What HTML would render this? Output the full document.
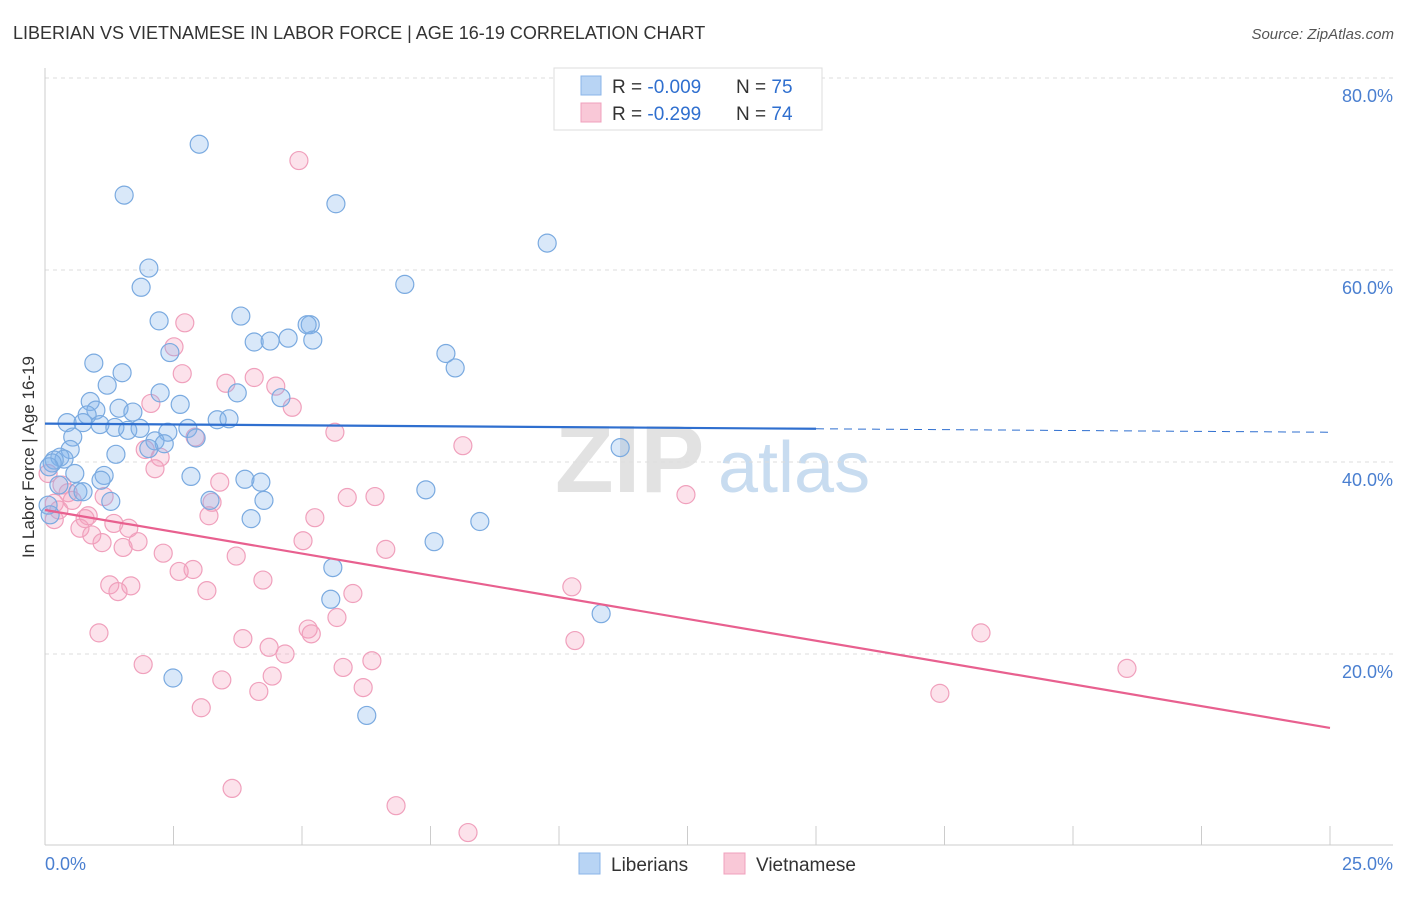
<!DOCTYPE html>
<html><head><meta charset="utf-8"><style>
body{margin:0;background:#fff;font-family:"Liberation Sans",sans-serif;}
svg text{font-family:"Liberation Sans",sans-serif;}
</style></head><body>
<svg id="chart" width="1406" height="892" xmlns="http://www.w3.org/2000/svg">
<text x="13" y="39" font-size="18" fill="#333">LIBERIAN VS VIETNAMESE IN LABOR FORCE | AGE 16-19 CORRELATION CHART</text>
<text x="1394" y="39" font-size="15" fill="#555" font-style="italic" text-anchor="end">Source: ZipAtlas.com</text>
<g>
<text x="555" y="492" font-size="96" font-family="Liberation Serif" fill="#e2e2e2" font-weight="bold">ZIP</text>
<text x="718" y="492" font-size="72" fill="#c8dcf0">atlas</text>
</g>
<g id="grid"></g>
<line x1="45" y1="68" x2="45" y2="845" stroke="#ccc"/>
<line x1="45" y1="845" x2="1393" y2="845" stroke="#ccc"/>
<text transform="translate(34,457) rotate(-90)" font-size="17" fill="#333" text-anchor="middle">In Labor Force | Age 16-19</text>
<text x="45" y="870" font-size="18" fill="#4a7fd0">0.0%</text>
<text x="1393" y="870" font-size="18" fill="#4a7fd0" text-anchor="end">25.0%</text>
<g id="points"></g>
<g id="trends"></g>
<g>
<rect x="554" y="68" width="268" height="62" fill="#fff" stroke="#ddd"/>
<rect x="581" y="76" width="20" height="19" fill="#b8d4f4" stroke="#8ab4e8"/>
<rect x="581" y="103" width="20" height="19" fill="#f9c8d7" stroke="#f0a0bc"/>
<text x="612" y="93" font-size="19" fill="#333">R = <tspan fill="#2f6fcf">-0.009</tspan><tspan x="736">N = </tspan><tspan fill="#2f6fcf">75</tspan></text>
<text x="612" y="120" font-size="19" fill="#333">R =  <tspan fill="#2f6fcf">-0.299</tspan><tspan x="736">N = </tspan><tspan fill="#2f6fcf">74</tspan></text>
</g>
<g>
<rect x="579" y="853" width="21" height="21" fill="#b8d4f4" stroke="#8ab4e8"/>
<text x="611" y="871" font-size="19" fill="#333">Liberians</text>
<rect x="724" y="853" width="21" height="21" fill="#f9c8d7" stroke="#f0a0bc"/>
<text x="756" y="871" font-size="19" fill="#333">Vietnamese</text>
</g>
</svg>
<script>
const yTicks=[20,40,60,80];
const xTicks=[0,2.5,5,7.5,10,12.5,15,17.5,20,22.5,25];
const blueX=[3.00,1.54,5.66,9.77,2.02,1.87,7.00,2.22,3.81,5.16,5.10,4.07,4.38,4.73,5.21,2.43,7.80,7.98,0.95,1.50,1.21,2.24,3.74,4.59,0.88,2.63,0.99,1.44,1.71,0.82,0.43,0.74,3.35,3.58,1.07,1.36,1.61,1.85,2.78,2.39,0.54,2.94,2.14,2.32,2.02,0.49,1.38,0.29,0.37,0.18,0.14,0.08,11.19,0.58,1.15,2.84,3.89,4.20,1.09,0.27,0.64,0.74,7.41,3.21,1.28,4.26,0.06,4.01,8.46,0.10,7.57,5.60,5.56,10.82,2.49,6.26];
const blueY=[73.1,67.8,66.9,62.8,60.2,58.2,58.5,54.7,55.2,54.3,54.3,52.5,52.6,52.9,52.7,51.4,51.3,49.8,50.3,49.3,48.0,47.2,47.2,46.7,46.3,46.0,45.4,45.6,45.2,44.9,44.1,44.1,44.4,44.5,43.9,43.6,43.3,43.5,43.5,43.1,42.6,42.5,42.2,41.9,41.4,41.3,40.8,40.5,40.3,40.2,39.9,39.5,41.5,38.8,38.6,38.5,38.2,37.9,38.1,37.6,36.9,36.9,37.1,36.0,35.9,36.0,35.5,34.1,33.8,34.5,31.7,29.0,25.7,24.2,17.5,13.6];
const pinkX=[4.94,2.72,2.51,2.67,4.07,3.52,4.49,4.81,2.06,2.92,5.64,8.13,1.95,2.24,2.14,3.40,0.06,0.33,0.45,1.15,0.53,5.88,6.42,0.18,12.47,3.25,0.27,0.84,5.25,0.18,0.78,3.19,1.34,0.68,0.91,1.63,6.63,1.81,1.52,1.11,5.02,3.72,2.30,2.61,2.88,4.24,10.25,1.26,1.67,1.42,5.99,3.15,5.68,5.12,5.18,1.05,3.85,10.31,18.21,4.36,4.67,1.91,5.80,6.36,4.42,3.44,21.05,6.19,4.16,17.41,3.04,3.64,6.83,8.23];
const pinkY=[71.4,54.5,52.0,49.2,48.8,48.2,47.9,45.7,46.1,42.6,43.1,41.7,41.3,40.5,39.3,37.9,38.8,37.6,36.8,36.4,36.0,36.3,36.4,35.7,36.6,35.8,35.0,34.4,34.2,34.0,34.1,34.4,33.6,33.1,32.4,33.1,30.9,31.7,31.1,31.6,31.8,30.2,30.5,28.6,28.8,27.7,27.0,27.2,27.1,26.5,26.3,26.6,23.8,22.6,22.1,22.2,21.6,21.4,22.2,20.7,20.0,18.9,18.6,19.3,17.7,17.3,18.5,16.5,16.1,15.9,14.4,6.0,4.2,1.4];
const blueTrend=[44.0,43.1];
const pinkTrend=[35.0,12.3];
const blueSolidEnd=15;
const NS='http://www.w3.org/2000/svg';
const xs=v=>45+v*(1285/25);
const ys=v=>846-v*9.6;
function mk(tag,attrs,parent){const e=document.createElementNS(NS,tag);for(const k in attrs)e.setAttribute(k,attrs[k]);parent.appendChild(e);return e;}
const grid=document.getElementById('grid');
yTicks.forEach(t=>{
 const l=mk('line',{x1:45,x2:1393,y1:ys(t),y2:ys(t),stroke:'#ddd','stroke-dasharray':'4,4'},grid);
 
 
 const tx=mk('text',{x:1393,y:ys(t)+24,'font-size':18,fill:'#4a7fd0','text-anchor':'end'},grid);
 tx.textContent=t.toFixed(1)+'%';
 
 
});
xTicks.forEach(t=>{
 const l=mk('line',{x1:xs(t),x2:xs(t),y1:826,y2:845,stroke:'#ccc'},grid);
 
 
});
const pts=document.getElementById('points');
pinkX.forEach((x,i)=>{
 const c=mk('circle',{cx:xs(x),cy:ys(pinkY[i]),r:9,fill:'rgba(244,160,188,0.3)',stroke:'#f0a0bc','stroke-width':1.2},pts);
 
 
});
blueX.forEach((x,i)=>{
 const c=mk('circle',{cx:xs(x),cy:ys(blueY[i]),r:9,fill:'rgba(130,180,235,0.3)',stroke:'#7aaae0','stroke-width':1.2},pts);
 
 
});
const tr=document.getElementById('trends');
const by=x=>blueTrend[0]+(blueTrend[1]-blueTrend[0])*x/25;
let l1=mk('line',{x1:xs(0),y1:ys(by(0)),x2:xs(blueSolidEnd),y2:ys(by(blueSolidEnd)),stroke:'#2f6fcf','stroke-width':2.2},tr);


let l2=mk('line',{x1:xs(blueSolidEnd),y1:ys(by(blueSolidEnd)),x2:xs(25),y2:ys(by(25)),stroke:'#2f6fcf','stroke-width':1,'stroke-dasharray':'8,6'},tr);


let l3=mk('line',{x1:xs(0),y1:ys(pinkTrend[0]),x2:xs(25),y2:ys(pinkTrend[1]),stroke:'#e8608f','stroke-width':2.2},tr);


</script>
</body></html>
